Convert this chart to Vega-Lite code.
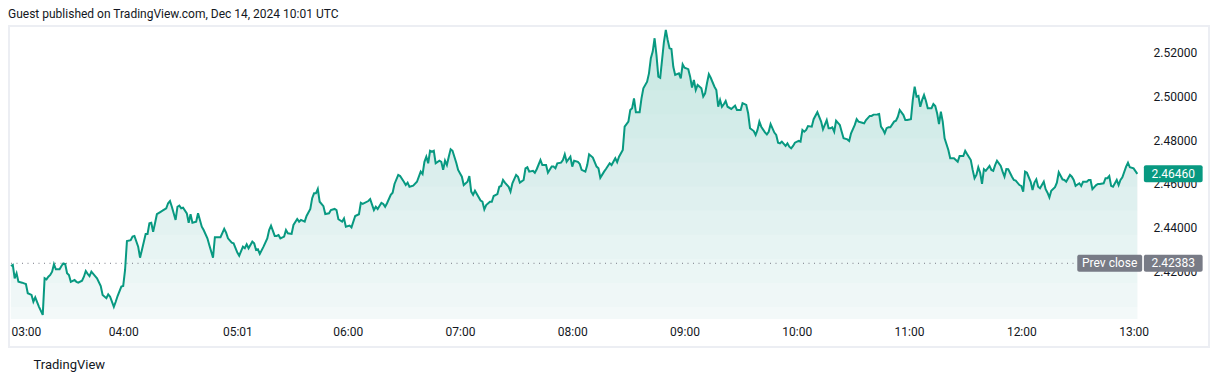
{
"$schema": "https://vega.github.io/schema/vega-lite/v6.json",
"width": 1135, "height": 292,
"autosize": "none",
"padding": {"left": 10, "top": 27, "right": 73, "bottom": 63},
"background": "white",
"config": {"view": {"stroke": null}, "font": "Roboto"},
"title": {"text": "Guest published on TradingView.com, Dec 14, 2024 10:01 UTC", "anchor": "start", "fontSize": 12, "fontWeight": "normal", "color": "#131722", "offset": 4, "font": "Roboto"},
"data": {"values": [{"part": "fill shading"}]},
"datasets": {
"price": [
{"m":180,"v":2.4226},{"m":181,"v":2.4231},{"m":182,"v":2.4170},{"m":183,"v":2.4193},{"m":184,"v":2.4154},{"m":186,"v":2.4150},{"m":187,"v":2.4147},{"m":188,"v":2.4144},{"m":189,"v":2.4102},{"m":191,"v":2.4094},{"m":192,"v":2.4063},{"m":193,"v":2.4083},{"m":195,"v":2.4040},{"m":197,"v":2.4003},{"m":198,"v":2.4170},{"m":199,"v":2.4165},{"m":200,"v":2.4177},{"m":201,"v":2.4185},{"m":202,"v":2.4200},{"m":203,"v":2.4234},{"m":204,"v":2.4211},{"m":206,"v":2.4211},{"m":207,"v":2.4226},{"m":208,"v":2.4238},{"m":209,"v":2.4235},{"m":210,"v":2.4193},{"m":211,"v":2.4185},{"m":212,"v":2.4154},{"m":214,"v":2.4162},{"m":215,"v":2.4154},{"m":216,"v":2.4150},{"m":218,"v":2.4159},{"m":219,"v":2.4177},{"m":220,"v":2.4203},{"m":221,"v":2.4190},{"m":222,"v":2.4180},{"m":223,"v":2.4200},{"m":225,"v":2.4180},{"m":226,"v":2.4170},{"m":228,"v":2.4135},{"m":229,"v":2.4094},{"m":231,"v":2.4079},{"m":232,"v":2.4097},{"m":233,"v":2.4086},{"m":235,"v":2.4040},{"m":236,"v":2.4063},{"m":237,"v":2.4089},{"m":239,"v":2.4132},{"m":240,"v":2.4135},{"m":241,"v":2.4208},{"m":242,"v":2.4340},{"m":244,"v":2.4344},{"m":245,"v":2.4360},{"m":246,"v":2.4363},{"m":248,"v":2.4314},{"m":249,"v":2.4264},{"m":250,"v":2.4299},{"m":252,"v":2.4372},{"m":253,"v":2.4372},{"m":254,"v":2.4421},{"m":255,"v":2.4423},{"m":256,"v":2.4382},{"m":257,"v":2.4421},{"m":258,"v":2.4462},{"m":260,"v":2.4473},{"m":261,"v":2.4478},{"m":263,"v":2.4489},{"m":264,"v":2.4512},{"m":265,"v":2.4522},{"m":266,"v":2.4496},{"m":268,"v":2.4436},{"m":269,"v":2.4496},{"m":270,"v":2.4501},{"m":271,"v":2.4489},{"m":272,"v":2.4492},{"m":274,"v":2.4466},{"m":275,"v":2.4423},{"m":276,"v":2.4462},{"m":277,"v":2.4423},{"m":279,"v":2.4428},{"m":280,"v":2.4466},{"m":282,"v":2.4405},{"m":283,"v":2.4390},{"m":285,"v":2.4352},{"m":286,"v":2.4322},{"m":288,"v":2.4264},{"m":289,"v":2.4357},{"m":291,"v":2.4357},{"m":292,"v":2.4357},{"m":294,"v":2.4395},{"m":295,"v":2.4378},{"m":296,"v":2.4352},{"m":298,"v":2.4332},{"m":299,"v":2.4329},{"m":301,"v":2.4287},{"m":302,"v":2.4273},{"m":304,"v":2.4314},{"m":305,"v":2.4307},{"m":306,"v":2.4325},{"m":307,"v":2.4307},{"m":309,"v":2.4337},{"m":310,"v":2.4329},{"m":311,"v":2.4299},{"m":312,"v":2.4302},{"m":313,"v":2.4281},{"m":315,"v":2.4314},{"m":317,"v":2.4352},{"m":318,"v":2.4390},{"m":319,"v":2.4410},{"m":321,"v":2.4363},{"m":322,"v":2.4363},{"m":323,"v":2.4367},{"m":324,"v":2.4352},{"m":326,"v":2.4360},{"m":327,"v":2.4390},{"m":328,"v":2.4375},{"m":330,"v":2.4372},{"m":331,"v":2.4413},{"m":333,"v":2.4440},{"m":334,"v":2.4428},{"m":335,"v":2.4436},{"m":337,"v":2.4428},{"m":338,"v":2.4454},{"m":340,"v":2.4486},{"m":341,"v":2.4535},{"m":342,"v":2.4557},{"m":343,"v":2.4557},{"m":344,"v":2.4577},{"m":345,"v":2.4519},{"m":347,"v":2.4499},{"m":348,"v":2.4463},{"m":350,"v":2.4466},{"m":351,"v":2.4481},{"m":353,"v":2.4486},{"m":354,"v":2.4481},{"m":355,"v":2.4439},{"m":357,"v":2.4428},{"m":358,"v":2.4443},{"m":359,"v":2.4405},{"m":361,"v":2.4410},{"m":362,"v":2.4402},{"m":364,"v":2.4454},{"m":366,"v":2.4462},{"m":367,"v":2.4514},{"m":368,"v":2.4509},{"m":371,"v":2.4522},{"m":372,"v":2.4531},{"m":374,"v":2.4481},{"m":375,"v":2.4496},{"m":376,"v":2.4486},{"m":378,"v":2.4514},{"m":379,"v":2.4509},{"m":380,"v":2.4496},{"m":381,"v":2.4512},{"m":383,"v":2.4550},{"m":384,"v":2.4560},{"m":385,"v":2.4600},{"m":387,"v":2.4641},{"m":388,"v":2.4636},{"m":390,"v":2.4610},{"m":391,"v":2.4595},{"m":392,"v":2.4606},{"m":393,"v":2.4587},{"m":395,"v":2.4592},{"m":397,"v":2.4610},{"m":399,"v":2.4656},{"m":400,"v":2.4645},{"m":401,"v":2.4701},{"m":402,"v":2.4724},{"m":403,"v":2.4694},{"m":404,"v":2.4751},{"m":405,"v":2.4747},{"m":406,"v":2.4751},{"m":407,"v":2.4694},{"m":409,"v":2.4706},{"m":410,"v":2.4701},{"m":411,"v":2.4664},{"m":412,"v":2.4706},{"m":413,"v":2.4686},{"m":414,"v":2.4724},{"m":415,"v":2.4758},{"m":416,"v":2.4751},{"m":418,"v":2.4697},{"m":419,"v":2.4664},{"m":421,"v":2.4633},{"m":422,"v":2.4595},{"m":424,"v":2.4610},{"m":425,"v":2.4636},{"m":426,"v":2.4565},{"m":427,"v":2.4550},{"m":428,"v":2.4569},{"m":430,"v":2.4539},{"m":431,"v":2.4524},{"m":432,"v":2.4519},{"m":433,"v":2.4484},{"m":434,"v":2.4504},{"m":436,"v":2.4519},{"m":437,"v":2.4519},{"m":438,"v":2.4545},{"m":440,"v":2.4554},{"m":441,"v":2.4587},{"m":442,"v":2.4591},{"m":443,"v":2.4618},{"m":444,"v":2.4606},{"m":446,"v":2.4587},{"m":447,"v":2.4565},{"m":448,"v":2.4603},{"m":450,"v":2.4641},{"m":451,"v":2.4633},{"m":452,"v":2.4606},{"m":454,"v":2.4618},{"m":455,"v":2.4671},{"m":456,"v":2.4676},{"m":457,"v":2.4656},{"m":459,"v":2.4660},{"m":460,"v":2.4651},{"m":461,"v":2.4667},{"m":463,"v":2.4709},{"m":464,"v":2.4686},{"m":466,"v":2.4686},{"m":467,"v":2.4651},{"m":469,"v":2.4679},{"m":470,"v":2.4679},{"m":471,"v":2.4671},{"m":472,"v":2.4694},{"m":474,"v":2.4697},{"m":475,"v":2.4709},{"m":476,"v":2.4735},{"m":477,"v":2.4701},{"m":479,"v":2.4724},{"m":480,"v":2.4679},{"m":481,"v":2.4706},{"m":483,"v":2.4701},{"m":484,"v":2.4691},{"m":485,"v":2.4664},{"m":487,"v":2.4656},{"m":488,"v":2.4686},{"m":489,"v":2.4735},{"m":491,"v":2.4720},{"m":493,"v":2.4679},{"m":494,"v":2.4671},{"m":495,"v":2.4628},{"m":497,"v":2.4656},{"m":498,"v":2.4668},{"m":500,"v":2.4694},{"m":501,"v":2.4686},{"m":503,"v":2.4717},{"m":504,"v":2.4699},{"m":505,"v":2.4724},{"m":507,"v":2.4755},{"m":508,"v":2.4861},{"m":510,"v":2.4884},{"m":511,"v":2.4937},{"m":512,"v":2.4945},{"m":513,"v":2.4990},{"m":514,"v":2.4927},{"m":516,"v":2.4927},{"m":517,"v":2.4990},{"m":518,"v":2.5036},{"m":520,"v":2.5066},{"m":521,"v":2.5104},{"m":522,"v":2.5173},{"m":523,"v":2.5203},{"m":524,"v":2.5264},{"m":525,"v":2.5188},{"m":526,"v":2.5089},{"m":527,"v":2.5084},{"m":529,"v":2.5248},{"m":530,"v":2.5302},{"m":531,"v":2.5256},{"m":532,"v":2.5218},{"m":533,"v":2.5215},{"m":534,"v":2.5134},{"m":535,"v":2.5097},{"m":537,"v":2.5104},{"m":538,"v":2.5081},{"m":539,"v":2.5145},{"m":540,"v":2.5130},{"m":542,"v":2.5123},{"m":543,"v":2.5089},{"m":544,"v":2.5039},{"m":545,"v":2.5074},{"m":546,"v":2.5028},{"m":547,"v":2.5051},{"m":549,"v":2.5036},{"m":550,"v":2.4998},{"m":551,"v":2.5013},{"m":552,"v":2.5059},{"m":553,"v":2.5100},{"m":554,"v":2.5084},{"m":556,"v":2.5043},{"m":557,"v":2.5028},{"m":558,"v":2.4952},{"m":559,"v":2.4983},{"m":560,"v":2.4952},{"m":561,"v":2.4963},{"m":562,"v":2.4978},{"m":563,"v":2.4952},{"m":565,"v":2.4942},{"m":567,"v":2.4957},{"m":568,"v":2.4937},{"m":570,"v":2.4937},{"m":571,"v":2.4968},{"m":573,"v":2.4960},{"m":574,"v":2.4922},{"m":575,"v":2.4854},{"m":577,"v":2.4841},{"m":578,"v":2.4823},{"m":579,"v":2.4846},{"m":580,"v":2.4884},{"m":581,"v":2.4861},{"m":583,"v":2.4835},{"m":584,"v":2.4826},{"m":585,"v":2.4838},{"m":586,"v":2.4873},{"m":588,"v":2.4834},{"m":589,"v":2.4823},{"m":590,"v":2.4788},{"m":591,"v":2.4785},{"m":592,"v":2.4793},{"m":594,"v":2.4773},{"m":595,"v":2.4785},{"m":596,"v":2.4770},{"m":597,"v":2.4762},{"m":598,"v":2.4773},{"m":599,"v":2.4788},{"m":601,"v":2.4796},{"m":602,"v":2.4793},{"m":603,"v":2.4846},{"m":604,"v":2.4838},{"m":605,"v":2.4846},{"m":606,"v":2.4864},{"m":608,"v":2.4861},{"m":609,"v":2.4895},{"m":611,"v":2.4927},{"m":612,"v":2.4906},{"m":613,"v":2.4884},{"m":614,"v":2.4849},{"m":616,"v":2.4891},{"m":617,"v":2.4854},{"m":618,"v":2.4854},{"m":619,"v":2.4858},{"m":620,"v":2.4838},{"m":621,"v":2.4888},{"m":623,"v":2.4869},{"m":624,"v":2.4838},{"m":625,"v":2.4808},{"m":627,"v":2.4803},{"m":628,"v":2.4796},{"m":629,"v":2.4831},{"m":631,"v":2.4869},{"m":632,"v":2.4895},{"m":633,"v":2.4884},{"m":635,"v":2.4879},{"m":636,"v":2.4876},{"m":637,"v":2.4891},{"m":639,"v":2.4910},{"m":640,"v":2.4910},{"m":641,"v":2.4916},{"m":643,"v":2.4917},{"m":644,"v":2.4919},{"m":645,"v":2.4861},{"m":646,"v":2.4849},{"m":647,"v":2.4831},{"m":648,"v":2.4854},{"m":649,"v":2.4858},{"m":650,"v":2.4858},{"m":652,"v":2.4884},{"m":653,"v":2.4888},{"m":654,"v":2.4906},{"m":655,"v":2.4937},{"m":657,"v":2.4914},{"m":658,"v":2.4891},{"m":659,"v":2.4891},{"m":661,"v":2.4895},{"m":662,"v":2.4983},{"m":663,"v":2.5043},{"m":664,"v":2.4998},{"m":665,"v":2.5001},{"m":666,"v":2.4952},{"m":667,"v":2.4983},{"m":668,"v":2.5005},{"m":669,"v":2.4979},{"m":670,"v":2.4945},{"m":672,"v":2.4945},{"m":673,"v":2.4964},{"m":674,"v":2.4955},{"m":675,"v":2.4922},{"m":676,"v":2.4873},{"m":677,"v":2.4929},{"m":678,"v":2.4884},{"m":679,"v":2.4808},{"m":681,"v":2.4755},{"m":682,"v":2.4717},{"m":684,"v":2.4717},{"m":686,"v":2.4701},{"m":687,"v":2.4727},{"m":689,"v":2.4727},{"m":690,"v":2.4751},{"m":691,"v":2.4736},{"m":693,"v":2.4709},{"m":694,"v":2.4664},{"m":695,"v":2.4626},{"m":696,"v":2.4641},{"m":697,"v":2.4676},{"m":698,"v":2.4651},{"m":699,"v":2.4600},{"m":700,"v":2.4667},{"m":701,"v":2.4660},{"m":703,"v":2.4682},{"m":704,"v":2.4664},{"m":705,"v":2.4660},{"m":706,"v":2.4686},{"m":707,"v":2.4706},{"m":709,"v":2.4682},{"m":710,"v":2.4656},{"m":711,"v":2.4633},{"m":712,"v":2.4668},{"m":713,"v":2.4667},{"m":715,"v":2.4633},{"m":716,"v":2.4618},{"m":717,"v":2.4615},{"m":719,"v":2.4595},{"m":720,"v":2.4591},{"m":721,"v":2.4565},{"m":722,"v":2.4656},{"m":723,"v":2.4651},{"m":725,"v":2.4610},{"m":726,"v":2.4572},{"m":727,"v":2.4606},{"m":728,"v":2.4621},{"m":729,"v":2.4587},{"m":730,"v":2.4580},{"m":732,"v":2.4610},{"m":733,"v":2.4576},{"m":734,"v":2.4560},{"m":735,"v":2.4539},{"m":736,"v":2.4569},{"m":738,"v":2.4585},{"m":739,"v":2.4606},{"m":740,"v":2.4653},{"m":742,"v":2.4621},{"m":743,"v":2.4618},{"m":744,"v":2.4610},{"m":746,"v":2.4641},{"m":747,"v":2.4633},{"m":748,"v":2.4618},{"m":749,"v":2.4591},{"m":751,"v":2.4603},{"m":752,"v":2.4591},{"m":753,"v":2.4610},{"m":755,"v":2.4610},{"m":756,"v":2.4618},{"m":757,"v":2.4618},{"m":758,"v":2.4576},{"m":760,"v":2.4595},{"m":761,"v":2.4600},{"m":762,"v":2.4600},{"m":764,"v":2.4603},{"m":765,"v":2.4626},{"m":766,"v":2.4626},{"m":767,"v":2.4636},{"m":768,"v":2.4591},{"m":769,"v":2.4587},{"m":771,"v":2.4618},{"m":772,"v":2.4595},{"m":773,"v":2.4618},{"m":774,"v":2.4630},{"m":776,"v":2.4679},{"m":777,"v":2.4697},{"m":778,"v":2.4676},{"m":780,"v":2.4671},{"m":782,"v":2.4646}
],
"tags": [
{"label": "2.46460", "v": 2.4646, "kind": "last"},
{"label": "2.42383", "v": 2.42383, "kind": "prev"}
]
},
"layer": [
{
"data": {"name": "price"},
"mark": {"type": "area", "clip": true, "color": "#c7e8e2"},
"encoding": {
"x": {"field": "m", "type": "quantitative", "scale": {"domain": [179.5, 786.1], "nice": false, "zero": false},
"axis": {"values": [180, 240, 301, 360, 420, 480, 540, 600, 660, 720, 780], "labelExpr": "timeFormat(datetime(2024,11,14,0,datum.value),'%H:%M')", "labelFlush": 3, "labelOverlap": false, "labelBound": false, "ticks": false, "domain": false, "grid": false, "labelPadding": 7, "labelFontSize": 12, "labelColor": "#131722", "labelFont": "Roboto",
"title": "TradingView", "titleAnchor": "start", "titleAlign": "left", "titleBaseline": "middle", "titleX": 23, "titleY": 45, "titleFontSize": 13, "titleFontWeight": "normal", "titleColor": "#131722", "titleFont": "Roboto"}},
"y": {"field": "v", "type": "quantitative", "scale": {"domain": [2.39844, 2.53153], "nice": false, "zero": false},
"axis": {"orient": "right", "values": [2.42, 2.44, 2.46, 2.48, 2.5, 2.52], "format": ".5f", "ticks": false, "domain": false, "grid": false, "labelPadding": 8, "labelFontSize": 12, "labelColor": "#131722", "labelFont": "Roboto", "title": null}}
}
},
{"mark": {"type": "rect", "color": "white", "opacity": 0.067}, "encoding": {"x": {"datum": 179.5, "type": "quantitative"}, "x2": {"datum": 786.1}, "y": {"datum": 2.52471, "type": "quantitative"}, "y2": {"datum": 2.39844}}},
{"mark": {"type": "rect", "color": "white", "opacity": 0.0713}, "encoding": {"x": {"datum": 179.5, "type": "quantitative"}, "x2": {"datum": 786.1}, "y": {"datum": 2.51373, "type": "quantitative"}, "y2": {"datum": 2.39844}}},
{"mark": {"type": "rect", "color": "white", "opacity": 0.0773}, "encoding": {"x": {"datum": 179.5, "type": "quantitative"}, "x2": {"datum": 786.1}, "y": {"datum": 2.50275, "type": "quantitative"}, "y2": {"datum": 2.39844}}},
{"mark": {"type": "rect", "color": "white", "opacity": 0.0837}, "encoding": {"x": {"datum": 179.5, "type": "quantitative"}, "x2": {"datum": 786.1}, "y": {"datum": 2.49177, "type": "quantitative"}, "y2": {"datum": 2.39844}}},
{"mark": {"type": "rect", "color": "white", "opacity": 0.0908}, "encoding": {"x": {"datum": 179.5, "type": "quantitative"}, "x2": {"datum": 786.1}, "y": {"datum": 2.48079, "type": "quantitative"}, "y2": {"datum": 2.39844}}},
{"mark": {"type": "rect", "color": "white", "opacity": 0.1005}, "encoding": {"x": {"datum": 179.5, "type": "quantitative"}, "x2": {"datum": 786.1}, "y": {"datum": 2.46981, "type": "quantitative"}, "y2": {"datum": 2.39844}}},
{"mark": {"type": "rect", "color": "white", "opacity": 0.1118}, "encoding": {"x": {"datum": 179.5, "type": "quantitative"}, "x2": {"datum": 786.1}, "y": {"datum": 2.45883, "type": "quantitative"}, "y2": {"datum": 2.39844}}},
{"mark": {"type": "rect", "color": "white", "opacity": 0.125}, "encoding": {"x": {"datum": 179.5, "type": "quantitative"}, "x2": {"datum": 786.1}, "y": {"datum": 2.44785, "type": "quantitative"}, "y2": {"datum": 2.39844}}},
{"mark": {"type": "rect", "color": "white", "opacity": 0.1438}, "encoding": {"x": {"datum": 179.5, "type": "quantitative"}, "x2": {"datum": 786.1}, "y": {"datum": 2.43687, "type": "quantitative"}, "y2": {"datum": 2.39844}}},
{"mark": {"type": "rect", "color": "white", "opacity": 0.168}, "encoding": {"x": {"datum": 179.5, "type": "quantitative"}, "x2": {"datum": 786.1}, "y": {"datum": 2.42589, "type": "quantitative"}, "y2": {"datum": 2.39844}}},
{"mark": {"type": "rect", "color": "white", "opacity": 0.2005}, "encoding": {"x": {"datum": 179.5, "type": "quantitative"}, "x2": {"datum": 786.1}, "y": {"datum": 2.41491, "type": "quantitative"}, "y2": {"datum": 2.39844}}},
{"mark": {"type": "rect", "color": "white", "opacity": 0.2525}, "encoding": {"x": {"datum": 179.5, "type": "quantitative"}, "x2": {"datum": 786.1}, "y": {"datum": 2.40393, "type": "quantitative"}, "y2": {"datum": 2.39844}}},
{
"data": {"name": "tags"},
"transform": [{"filter": "datum.kind == 'prev'"}],
"mark": {"type": "rule", "color": "#787b86", "strokeWidth": 1, "strokeDash": [1, 4.5]},
"encoding": {
"y": {"field": "v", "type": "quantitative", "scale": {"domain": [2.39844, 2.53153], "nice": false, "zero": false}}
}
},
{
"data": {"name": "price"},
"mark": {"type": "line", "color": "#089981", "strokeWidth": 2, "clip": true},
"encoding": {
"x": {"field": "m", "type": "quantitative", "scale": {"domain": [179.5, 786.1], "nice": false, "zero": false}},
"y": {"field": "v", "type": "quantitative", "scale": {"domain": [2.39844, 2.53153], "nice": false, "zero": false}}
}
},
{
"data": {"name": "tags"},
"mark": {"type": "rect", "height": 17, "cornerRadius": 2, "clip": false},
"encoding": {
"x": {"datum": 785.5, "type": "quantitative", "scale": {"domain": [179.5, 786.1], "nice": false, "zero": false}},
"x2": {"datum": 816.9},
"y": {"field": "v", "type": "quantitative", "scale": {"domain": [2.39844, 2.53153], "nice": false, "zero": false}},
"color": {"field": "kind", "type": "nominal", "scale": {"domain": ["last", "prev"], "range": ["#089981", "#787b86"]}, "legend": null}
}
},
{
"data": {"name": "tags"},
"transform": [{"filter": "datum.kind == 'prev'"}],
"mark": {"type": "rect", "height": 17, "cornerRadius": 2, "clip": false, "color": "#787b86"},
"encoding": {
"x": {"datum": 749.9, "type": "quantitative", "scale": {"domain": [179.5, 786.1], "nice": false, "zero": false}},
"x2": {"datum": 784.6},
"y": {"field": "v", "type": "quantitative", "scale": {"domain": [2.39844, 2.53153], "nice": false, "zero": false}}
}
},
{
"data": {"name": "tags"},
"mark": {"type": "text", "color": "white", "fontSize": 12, "font": "Roboto", "align": "center", "baseline": "middle", "clip": false},
"encoding": {
"x": {"datum": 801.2, "type": "quantitative", "scale": {"domain": [179.5, 786.1], "nice": false, "zero": false}},
"y": {"field": "v", "type": "quantitative", "scale": {"domain": [2.39844, 2.53153], "nice": false, "zero": false}},
"text": {"field": "label"}
}
},
{
"data": {"name": "tags"},
"transform": [{"filter": "datum.kind == 'prev'"}],
"mark": {"type": "text", "color": "white", "fontSize": 12, "font": "Roboto", "align": "center", "baseline": "middle", "clip": false},
"encoding": {
"x": {"datum": 767.2, "type": "quantitative", "scale": {"domain": [179.5, 786.1], "nice": false, "zero": false}},
"y": {"field": "v", "type": "quantitative", "scale": {"domain": [2.39844, 2.53153], "nice": false, "zero": false}},
"text": {"value": "Prev close"}
}
},
{
"data": {"values": [{"frame": "chart"}]},
"mark": {"type": "rect", "fill": null, "stroke": "#eceef3", "strokeWidth": 2, "clip": false},
"encoding": {
"x": {"datum": 178.97, "type": "quantitative", "scale": {"domain": [179.5, 786.1], "nice": false, "zero": false}},
"x2": {"datum": 820.3},
"y": {"datum": 2.53199, "type": "quantitative", "scale": {"domain": [2.39844, 2.53153], "nice": false, "zero": false}},
"y2": {"datum": 2.38568}
}
}
]
}
